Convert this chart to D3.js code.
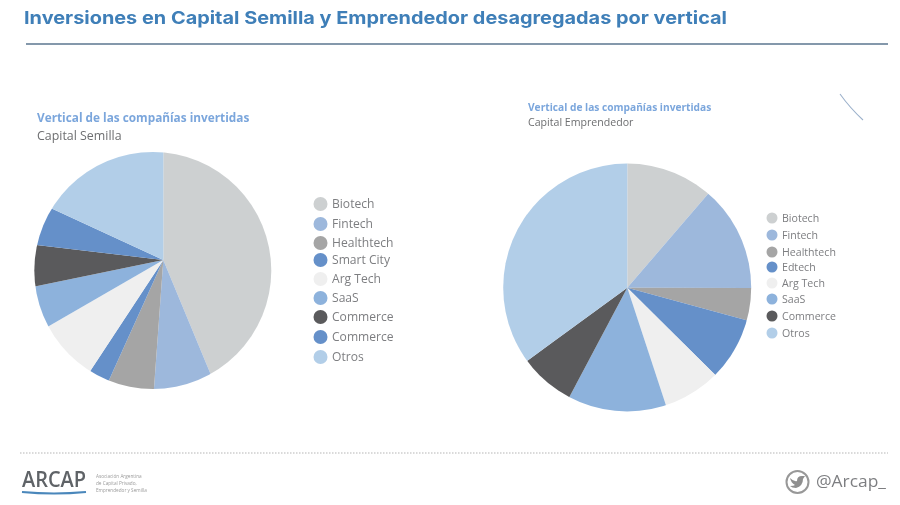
<!DOCTYPE html>
<html>
<head>
<meta charset="utf-8">
<style>
  html, body { margin: 0; padding: 0; background: #fff; }
  svg { display: block; font-family: "Open Sans", Lato, sans-serif; }
  .soft { filter: blur(0.55px); }
</style>
<script src="https://d3js.org/d3.v7.min.js"></script>
</head>
<body>
<svg width="900" height="505"></svg>
<script>
// valores, en porcentaje
var semillaLabels = ["Biotech", "Fintech", "Healthtech", "Smart City", "Arg Tech", "SaaS", "Commerce", "Commerce", "Otros"];
var semillaValues = [43.7, 7.4, 5.6, 2.5, 7.4, 5.1, 5.1, 5.0, 18.1];
var semillaColors = ["#cdd0d1", "#9db8dc", "#a5a5a5", "#6590c9", "#efefef", "#8db2dc", "#5a5a5c", "#6590c9", "#b2cee8"];

var emprendedorLabels = ["Biotech", "Fintech", "Healthtech", "Edtech", "Arg Tech", "SaaS", "Commerce", "Otros"];
var emprendedorValues = [11.3, 13.7, 4.2, 8.2, 7.5, 12.8, 7.2, 35.0];
var emprendedorColors = ["#cdd0d1", "#9db8dc", "#a5a5a5", "#6590c9", "#efefef", "#8db2dc", "#5a5a5c", "#b2cee8"];

var svg = d3.select("svg");
var defs = svg.append("defs");
var root = svg.append("g").attr("class", "soft");

// encabezado
root.append("text")
  .attr("x", 24).attr("y", 24)
  .attr("font-family", "Inter")
  .attr("font-size", 17.6).attr("font-weight", 700).attr("fill", "#3f7fb8")
  .attr("textLength", 703).attr("lengthAdjust", "spacingAndGlyphs")
  .text("Inversiones en Capital Semilla y Emprendedor desagregadas por vertical");
root.append("line")
  .attr("x1", 26).attr("x2", 888).attr("y1", 44).attr("y2", 44)
  .attr("stroke", "#8498ab").attr("stroke-width", 1.8);

// el vertice de las porciones no siempre coincide con el centro del circulo,
// por eso se recortan las porciones con el circulo
function drawPie(id, apexX, apexY, cx, cy, r, values, colors) {
  var pie = d3.pie().sort(null).value(function(d) { return d; });
  var arc = d3.arc().innerRadius(0).outerRadius(r * 1.4);
  defs.append("clipPath").attr("id", id)
    .append("circle").attr("cx", cx).attr("cy", cy).attr("r", r);
  root.append("g")
    .attr("clip-path", "url(#" + id + ")")
    .append("g")
    .attr("transform", "translate(" + apexX + "," + apexY + ")")
    .selectAll("path")
    .data(pie(values))
    .enter()
    .append("path")
    .attr("d", arc)
    .attr("fill", function(d, i) { return colors[i]; });
}

function drawLegend(x, ys, labels, colors, size, dotR, gap) {
  var g = root.append("g");
  g.selectAll("circle")
    .data(labels)
    .enter()
    .append("circle")
    .attr("cx", x)
    .attr("cy", function(d, i) { return ys[i]; })
    .attr("r", dotR)
    .attr("fill", function(d, i) { return colors[i]; });
  g.selectAll("text")
    .data(labels)
    .enter()
    .append("text")
    .attr("x", x + gap)
    .attr("y", function(d, i) { return ys[i]; })
    .attr("dy", "0.35em")
    .attr("font-size", size)
    .attr("fill", "#7d7e81")
    .text(function(d) { return d; });
}

// Capital Semilla
root.append("text").attr("x", 37).attr("y", 122)
  .attr("font-size", 11.8).attr("font-weight", 700).attr("fill", "#7ba6dc")
  .text("Vertical de las compañías invertidas");
root.append("text").attr("x", 37).attr("y", 140)
  .attr("font-size", 12.4).attr("fill", "#6d6e70")
  .text("Capital Semilla");
drawPie("clipSemilla", 163.3, 260, 152.8, 270.5, 118.5, semillaValues, semillaColors);
drawLegend(320.5, [204, 224, 243, 260, 279, 298, 317, 337, 357], semillaLabels, semillaColors, 12.1, 7, 11.5);

// Capital Emprendedor
root.append("text").attr("x", 528).attr("y", 111)
  .attr("font-size", 10.2).attr("font-weight", 700).attr("fill", "#7ba6dc")
  .text("Vertical de las compañías invertidas");
root.append("text").attr("x", 528).attr("y", 126)
  .attr("font-size", 10.6).attr("fill", "#6d6e70")
  .text("Capital Emprendedor");
drawPie("clipEmprendedor", 627.3, 287.7, 627.2, 287.5, 124, emprendedorValues, emprendedorColors);
drawLegend(772, [218, 235, 252, 267, 283, 299, 316, 333], emprendedorLabels, emprendedorColors, 10.6, 5.5, 10);

// trazo suelto arriba a la derecha
root.append("path")
  .attr("d", "M840,94 Q850,108 863,120")
  .attr("fill", "none").attr("stroke", "#9cb1cb").attr("stroke-width", 1.1);

// pie de pagina
root.append("line")
  .attr("x1", 20).attr("x2", 888).attr("y1", 453).attr("y2", 453)
  .attr("stroke", "#b5b5b5").attr("stroke-width", 1.2).attr("stroke-dasharray", "1.5,1.5");
root.append("text").attr("x", 22).attr("y", 487)
  .attr("font-size", 22).attr("font-weight", 600).attr("fill", "#5f6367")
  .attr("textLength", 64).attr("lengthAdjust", "spacingAndGlyphs")
  .text("ARCAP");
root.append("path")
  .attr("d", "M22,492 Q54,495 86,492")
  .attr("fill", "none").attr("stroke", "#4a87bb").attr("stroke-width", 2);
root.append("g").selectAll("text")
  .data(["Asociación Argentina", "de Capital Privado,", "Emprendedor y Semilla"])
  .enter()
  .append("text")
  .attr("x", 96)
  .attr("y", function(d, i) { return 478 + i * 7; })
  .attr("font-size", 4.7).attr("fill", "#9a9a9a")
  .text(function(d) { return d; });

root.append("circle").attr("cx", 797.5).attr("cy", 482).attr("r", 11)
  .attr("fill", "#fff").attr("stroke", "#989898").attr("stroke-width", 2);
root.append("path")
  .attr("d", "M790,478 Q794,482 797,481 Q797,476 802,476 L805,476 L803,479 Q803,486 796,488 Q792,488 790,486 Q794,486 795,485 Q791,483 790,478 Z")
  .attr("fill", "#8f8f8f");
root.append("text").attr("x", 816).attr("y", 487)
  .attr("font-size", 15.5).attr("fill", "#7d7e81")
  .attr("textLength", 70).attr("lengthAdjust", "spacingAndGlyphs")
  .text("@Arcap_");
</script>
</body>
</html>
